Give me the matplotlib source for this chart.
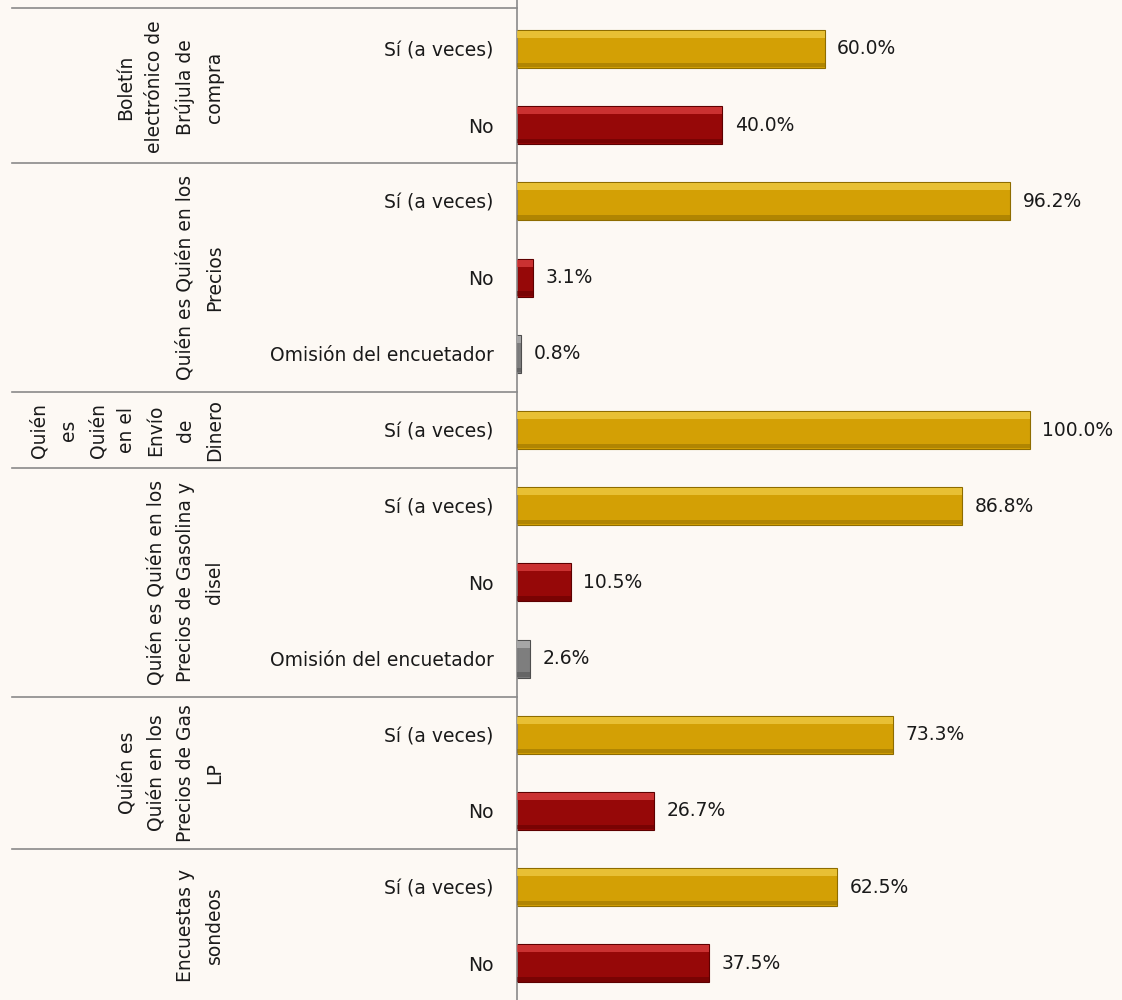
import matplotlib
matplotlib.use("Agg")
import matplotlib.pyplot as plt
import matplotlib.transforms as mtransforms

# ---- data ----
groups = [
    "Boletín\nelectrónico de\nBrújula de\ncompra",
    "Quién es Quién en los\nPrecios",
    "Quién\nes\nQuién\nen el\nEnvío\nde\nDinero",
    "Quién es Quién en los\nPrecios de Gasolina y\ndisel",
    "Quién es\nQuién en los\nPrecios de Gas\nLP",
    "Encuestas y\nsondeos",
]
responses = [
    ["Sí (a veces)", "No"],
    ["Sí (a veces)", "No", "Omisión del encuetador"],
    ["Sí (a veces)"],
    ["Sí (a veces)", "No", "Omisión del encuetador"],
    ["Sí (a veces)", "No"],
    ["Sí (a veces)", "No"],
]
values = [
    [60.0, 40.0],
    [96.2, 3.1, 0.8],
    [100.0],
    [86.8, 10.5, 2.6],
    [73.3, 26.7],
    [62.5, 37.5],
]

palette = {
    "Sí (a veces)": ("#D3A005", "#F0CC44", "#8E6C00"),
    "No": ("#960808", "#DC4040", "#5E0000"),
    "Omisión del encuetador": ("#7E7E7E", "#B4B4B4", "#4E4E4E"),
}

FONT = "DejaVu Sans"
FS = 13.5

# flatten
labels, vals, ypos = [], [], []
group_spans = []
row = 0
for g, (resp, v) in enumerate(zip(responses, values)):
    start = row
    for r, x in zip(resp, v):
        labels.append(r)
        vals.append(x)
        ypos.append(row)
        row += 1
    group_spans.append((start, row - 1))
n = row

fig = plt.figure(figsize=(11.22, 10), dpi=100)
fig.patch.set_facecolor("#fdf9f4")
ax = fig.add_axes([517 / 1122, 0.0, 605 / 1122, 1.0])
ax.set_facecolor("none")

step = 76.2
top_c = 49.0
ax.set_ylim((1000 - top_c) / step, -top_c / step)
ax.set_xlim(0, 118)

bh = 0.5
for y, x, lab in zip(ypos, vals, labels):
    main, hi, dark = palette[lab]
    ax.barh(y, x, height=bh, color=main, edgecolor=dark, linewidth=0.8, zorder=2)
    ax.barh(y - bh / 2 + 0.06, x, height=0.09, color=hi, linewidth=0, zorder=3, alpha=0.75)
    ax.barh(y + bh / 2 - 0.04, x, height=0.06, color=dark, linewidth=0, zorder=3, alpha=0.5)
    ax.annotate(f"{x:.1f}%", xy=(x, y), xytext=(9, 0), textcoords="offset points",
                ha="left", va="center", fontsize=FS, family=FONT, color="#1a1a1a")

ax.set_yticks(ypos)
ax.set_yticklabels(labels, fontsize=FS, family=FONT, color="#1a1a1a")
ax.tick_params(axis="y", length=0, pad=17)
ax.set_xticks([])
for s in ["top", "right", "bottom"]:
    ax.spines[s].set_visible(False)
ax.spines["left"].set_color("#8a8a8a")
ax.spines["left"].set_linewidth(1.2)

trans = mtransforms.blended_transform_factory(ax.transAxes, ax.transData)
x_left = (12 - 517) / 605
seps = [-0.54] + [s[1] + 0.5 for s in group_spans[:-1]]
for yy in seps:
    ax.plot([x_left, 0], [yy, yy], transform=trans, color="#8a8a8a", lw=1.2,
            clip_on=False, zorder=1)

x_grp = (224 - 517) / 605
for gname, (a, b) in zip(groups, group_spans):
    ax.text(x_grp, (a + b) / 2, gname, transform=trans, rotation=90,
            ha="right", va="center", multialignment="center",
            fontsize=FS, family=FONT, linespacing=1.68, color="#1a1a1a")

fig.savefig("out.png", dpi=100, facecolor=fig.get_facecolor())
